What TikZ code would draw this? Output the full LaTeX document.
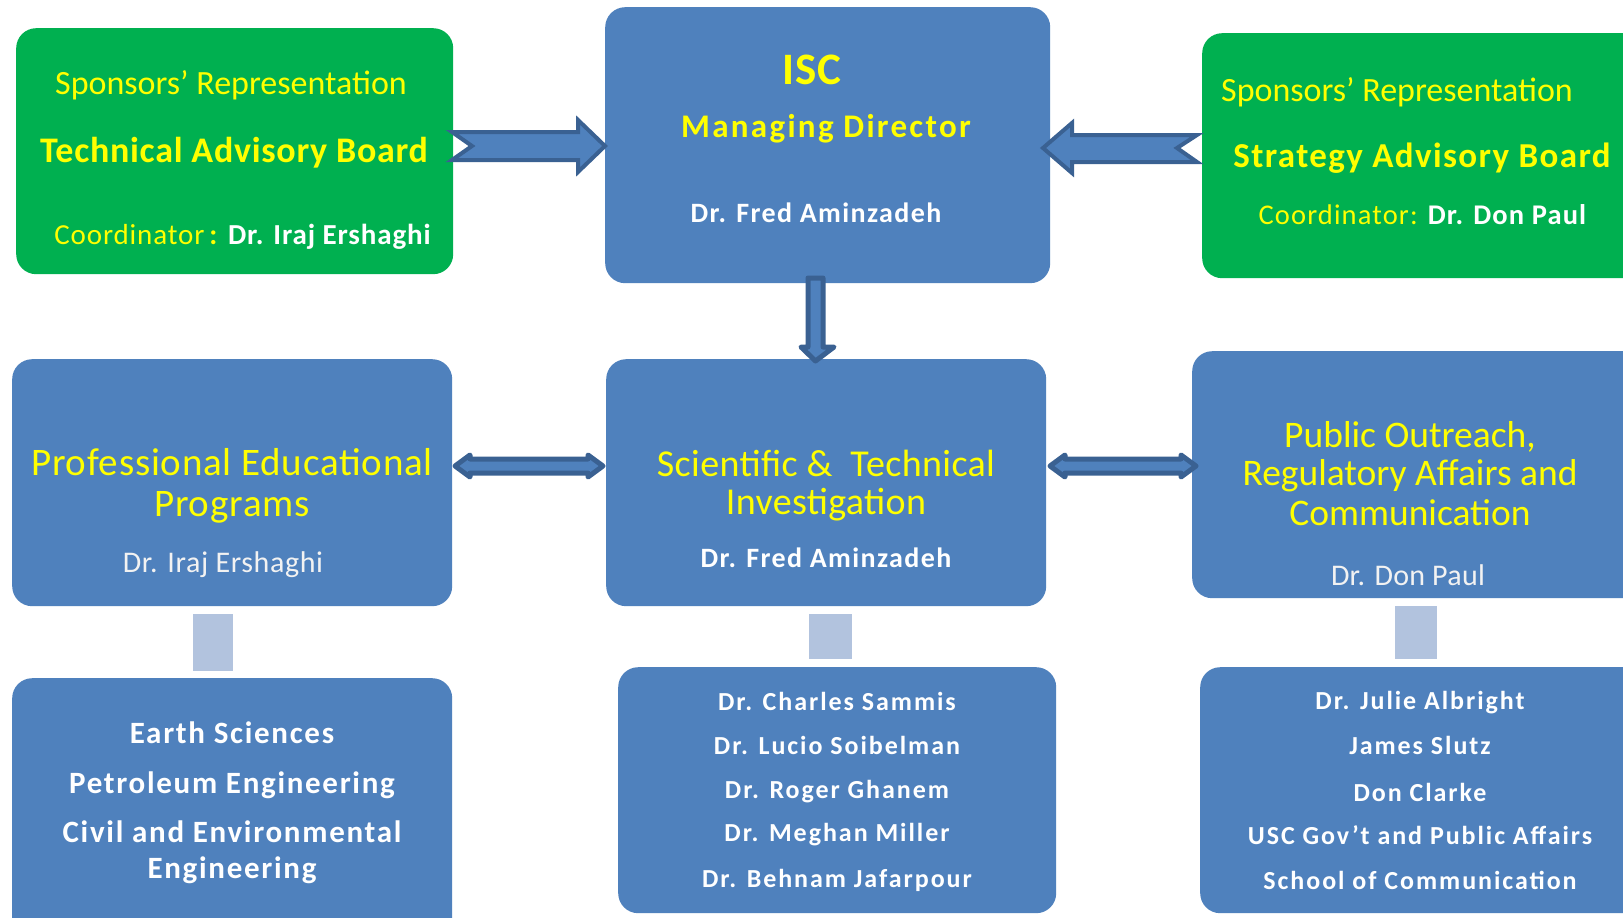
\documentclass[tikz,border=0pt]{standalone}
\usepackage{fontspec}
\setmainfont{Carlito}
\definecolor{boxblue}{HTML}{4F81BD}
\definecolor{boxgreen}{HTML}{00B050}
\definecolor{arrdark}{HTML}{3A6192}
\definecolor{linkblue}{HTML}{B2C3DE}
\definecolor{ytext}{HTML}{FFFF00}
\definecolor{softwhite}{HTML}{F2F2F2}
\tikzset{
  bluebox/.style={fill=boxblue, draw=none, rounded corners=20pt, inner sep=0pt},
  greenbox/.style={fill=boxgreen, draw=none, rounded corners=20pt, inner sep=0pt},
  blockarrow/.style={fill=boxblue, draw=arrdark, line width=4pt, line join=miter},
  dblarrow/.style={fill=boxblue, draw=arrdark, line width=5pt, line join=round},
  linkbar/.style={fill=linkblue, draw=none},
  rg/.style 2 args={font=\fontsize{#1}{#1}\selectfont\addfontfeature{LetterSpace=#2}},
  bd/.style 2 args={font=\fontsize{#1}{#1}\bfseries\selectfont\addfontfeature{LetterSpace=#2}},
  yel/.style={text=ytext},
  wht/.style={text=white},
}
\begin{document}
\begin{tikzpicture}[x=1pt,y=-1pt]
\useasboundingbox (0,0) rectangle (1623,918);
\clip (0,0) rectangle (1623,918);
\fill[white] (0,0) rectangle (1623,918);
% boxes
\node[greenbox, minimum width=437pt, minimum height=246pt, anchor=north west] (tab) at (16,28) {};
\node[bluebox, minimum width=445pt, minimum height=276pt, anchor=north west] (isc) at (605,7) {};
\node[greenbox, minimum width=460pt, minimum height=245pt, anchor=north west] (sab) at (1202,33) {};
\node[bluebox, minimum width=440pt, minimum height=247pt, anchor=north west] (pep) at (12,359) {};
\node[bluebox, minimum width=440pt, minimum height=247pt, anchor=north west] (sti) at (606,359) {};
\node[bluebox, minimum width=470pt, minimum height=247pt, anchor=north west] (po) at (1192,351) {};
\node[bluebox, minimum width=440pt, minimum height=270pt, anchor=north west] (edu) at (12,678) {};
\node[bluebox, minimum width=438pt, minimum height=246pt, anchor=north west] (res) at (618,667) {};
\node[bluebox, minimum width=460pt, minimum height=246pt, anchor=north west] (pub) at (1200,667) {};
% link bars
\node[linkbar, minimum width=40pt, minimum height=57pt, inner sep=0pt, anchor=north west] (l1) at (193,614) {};
\node[linkbar, minimum width=43pt, minimum height=45pt, inner sep=0pt, anchor=north west] (l2) at (809,614) {};
\node[linkbar, minimum width=42pt, minimum height=53pt, inner sep=0pt, anchor=north west] (l3) at (1395,606) {};
% block arrows
\draw[blockarrow] (452,132) -- (578,132) -- (578,120) -- (605,146) -- (578,172) -- (578,160) -- (452,160) -- (472,146) -- cycle;
\draw[blockarrow] (1043,148) -- (1072,123) -- (1072,135) -- (1197,135) -- (1177,148) -- (1197,162) -- (1072,162) -- (1072,173) -- cycle;
\draw[dblarrow] (808,278) -- (823,278) -- (823,347) -- (834,347) -- (815.5,361) -- (801,347) -- (808,347) -- cycle;
\draw[dblarrow] (455,466) -- (470,455) -- (470,459) -- (588,459) -- (588,455) -- (603,466) -- (588,477) -- (588,473) -- (470,473) -- (470,477) -- cycle;
\draw[dblarrow] (1050,466) -- (1065,455) -- (1065,459) -- (1181,459) -- (1181,455) -- (1196,466) -- (1181,477) -- (1181,473) -- (1065,473) -- (1065,477) -- cycle;
% texts TAB
\node[yel, rg={34}{0}] (t1) at (231,85) {Sponsors’ Representation};
\node[yel, bd={36}{2}] (t2) at (234,153) {Technical Advisory Board};
\node[rg={29}{3}] (t3) at (243,237) {\textcolor{ytext}{Coordinator\,\textbf{:}} \textcolor{white}{\textbf{Dr. Iraj Ershaghi}}};
% ISC
\node[yel, bd={45}{2}] (i1) at (812,70) {ISC};
\node[yel, bd={33}{7}] (i2) at (826,129) {Managing Director};
\node[wht, bd={28}{5}] (i3) at (816,213) {Dr. Fred Aminzadeh};
% SAB
\node[yel, rg={34}{0}] (s1) at (1397,92) {Sponsors’ Representation};
\node[yel, bd={35}{4}] (s2) at (1422,158) {Strategy Advisory Board};
\node[rg={28.5}{4}] (s3) at (1423,215) {\textcolor{ytext}{Coordinator:} \textcolor{white}{\textbf{Dr. Don Paul}}};
% PEP
\node[yel, rg={39}{2}] (p1) at (232,462) {Professional Educational};
\node[yel, rg={39}{2}] (p2) at (232,507) {Programs};
\node[text=softwhite, rg={30}{2}] (p3) at (223,565) {Dr. Iraj Ershaghi};
% STI
\node[yel, rg={38}{1}] (q1) at (826,463) {Scientific \&\ \ Technical};
\node[yel, rg={38}{1}] (q2) at (826,505) {Investigation};
\node[wht, bd={28}{5}] (q3) at (826,558) {Dr. Fred Aminzadeh};
% PO
\node[yel, rg={37.5}{0}] (o1) at (1410,437) {Public Outreach,};
\node[yel, rg={37.5}{0}] (o2) at (1410,476) {Regulatory Affairs and};
\node[yel, rg={37.5}{0}] (o3) at (1410,513) {Communication};
\node[text=softwhite, rg={30}{1}] (o4) at (1408,575) {Dr. Don Paul};
% bottom left
\node[wht, bd={31}{5.5}] (e1) at (232,733) {Earth Sciences};
\node[wht, bd={31}{5.5}] (e2) at (232,785) {Petroleum Engineering};
\node[wht, bd={31}{5.5}] (e3) at (232,832) {Civil and Environmental};
\node[wht, bd={31}{5.5}] (e4) at (232,870) {Engineering};
% bottom middle
\node[wht, bd={26}{7.5}] (r1) at (837,701) {Dr. Charles Sammis};
\node[wht, bd={26}{7.5}] (r2) at (837,745) {Dr. Lucio Soibelman};
\node[wht, bd={26}{7.5}] (r3) at (837,792) {Dr. Roger Ghanem};
\node[wht, bd={26}{7.5}] (r4) at (837,835) {Dr. Meghan Miller};
\node[wht, bd={26}{7.5}] (r5) at (837,880) {Dr. Behnam Jafarpour};
% bottom right
\node[wht, bd={26}{7.5}] (u1) at (1420,703) {Dr. Julie Albright};
\node[wht, bd={26}{7.5}] (u2) at (1420,745) {James Slutz};
\node[wht, bd={26}{7.5}] (u3) at (1420,792) {Don Clarke};
\node[wht, bd={26}{7.5}] (u4) at (1420,835) {USC Gov’t and Public Affairs};
\node[wht, bd={26}{7.5}] (u5) at (1420,880) {School of Communication};
\end{tikzpicture}
\end{document}
